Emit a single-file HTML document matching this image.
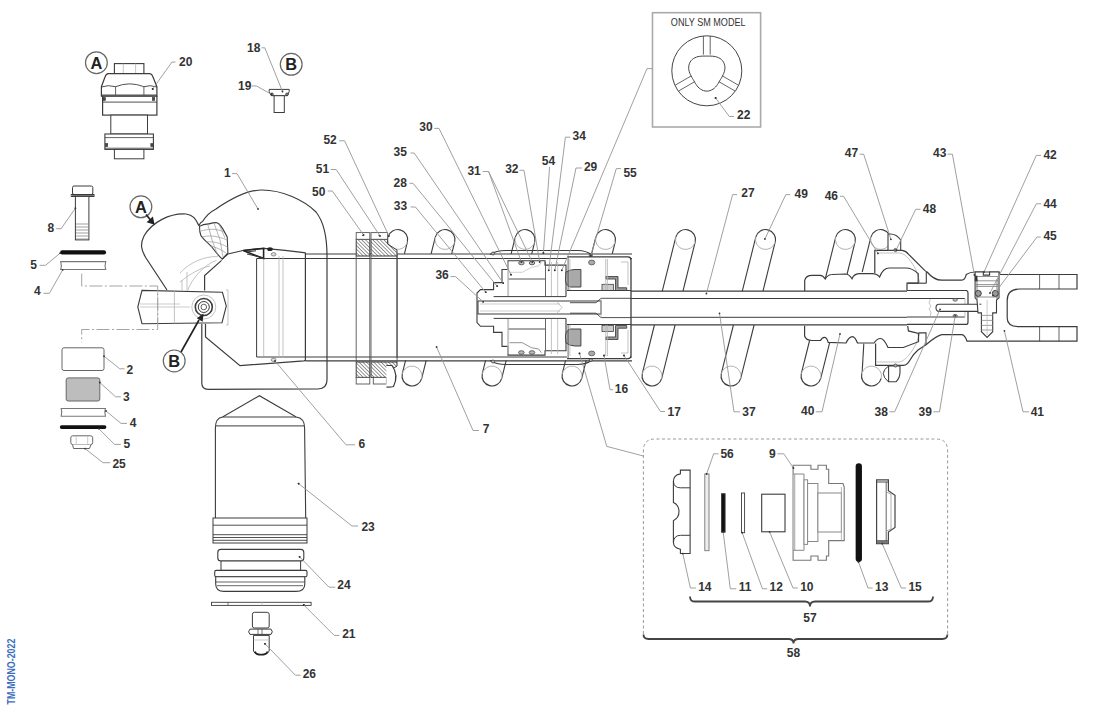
<!DOCTYPE html>
<html><head><meta charset="utf-8"><style>
html,body{margin:0;padding:0;background:#fff;}
svg{display:block;}
.lb{font-family:"Liberation Sans",sans-serif;font-weight:bold;fill:#333;}
</style></head><body>
<svg width="1100" height="715" viewBox="0 0 1100 715">
<defs><pattern id="hatch" patternUnits="userSpaceOnUse" width="2.6" height="2.6" patternTransform="rotate(-45)"><rect width="2.6" height="2.6" fill="#fff"/><line x1="0" y1="0" x2="0" y2="2.6" stroke="#444" stroke-width="1.1"/></pattern></defs>
<rect width="1100" height="715" fill="#fff"/>
<path d="M198.9,225.7 C200,223 201,222 202.7,221.3 C206,216 210,212 216,209 C232,198 248,190 262,190 C282,190 304,200 316,212 C324,222 327,236 327,256" fill="none" stroke="#3c3c3c" stroke-width="1.2" />
<path d="M198.9,225.7 C196,220 194,215 186,214 C170,213 152,222 144,236 C140,244 141,250 146,258 L167,290" fill="none" stroke="#3c3c3c" stroke-width="1.2" />
<path d="M199.5,226.4 C203,224 206,224 209,223.9 C212,223 214,222.6 216,222.6 C219,222.6 221,226 222.8,228.9 L227.2,237 L227.9,252.8 L222.2,259.1 C218,255 214,250 211.5,246.5 C206,241 202,238 200.8,235.2 C199.5,232 199.5,229 199.5,226.4 Z" fill="white" stroke="#3c3c3c" stroke-width="1.1" />
<path d="M201,231 C208,229 216,228 224,232 M202,237 C210,235 218,236 227,240 M206,242 C213,241 220,243 227.5,247 M210,246 C216,247 222,250 226,253 M208,225 L212,240 L218,256 M214,223 L220,240 L223,257 M219,224 L225,238" fill="none" stroke="#9a9a9a" stroke-width="0.7" />
<path d="M180,273 C190,262 205,256 217.8,256.6 M187.6,290.6 C192,278 205,264 216.5,260.4 M180,282 C190,274 200,268 210,266 M182,290 L182,280 M187,290 L187,272" fill="none" stroke="#b4b4b4" stroke-width="0.8" />
<polyline points="222.2,259.1 227.9,254.0 243.0,250.5 264.0,248.3 285.0,250.3 304.0,252.6 305.4,253.0 305.4,360.3 304.0,360.8 240.0,365.6 205.5,337.0 205.5,324.0" fill="none" stroke="#3c3c3c" stroke-width="1.2" />
<polyline points="204.6,290.6 204.6,275.5 221.6,260.4" fill="none" stroke="#3c3c3c" stroke-width="1.2" />
<path d="M201.8,324 L201.8,383 Q201.8,389.3 208,389.3 L318,389 Q327,388.5 327,380 L327,256" fill="none" stroke="#3c3c3c" stroke-width="1.2" />
<polygon points="137.8,307.0 142.0,290.4 222.4,292.3 226.3,306.0 222.0,322.7 142.0,323.7" fill="white" stroke="#3c3c3c" stroke-width="1.1" />
<line x1="157.7" y1="290.6" x2="157.7" y2="323.5" stroke="#b4b4b4" stroke-width="0.8" />
<line x1="174.4" y1="290.8" x2="174.4" y2="323.5" stroke="#b4b4b4" stroke-width="0.8" />
<line x1="140.0" y1="307.0" x2="190.0" y2="307.0" stroke="#b4b4b4" stroke-width="0.7" />
<line x1="140.0" y1="304.0" x2="180.0" y2="304.0" stroke="#b4b4b4" stroke-width="0.7" />
<path d="M226,290 L228,290 L228,325 L226,325" fill="none" stroke="#b4b4b4" stroke-width="0.8" />
<circle cx="203.8" cy="307.0" r="12.0" fill="none" stroke="#b4b4b4" stroke-width="0.8" />
<circle cx="203.8" cy="307.0" r="8.5" fill="none" stroke="#3c3c3c" stroke-width="1.6" />
<circle cx="203.8" cy="307.0" r="5.5" fill="none" stroke="#3c3c3c" stroke-width="1.0" />
<circle cx="203.8" cy="307.0" r="2.8" fill="none" stroke="#3c3c3c" stroke-width="0.8" />
<path d="M243.2,250.5 L263.6,248.3 L263.6,258.6 Z" fill="none" stroke="#222" stroke-width="1.6" />
<path d="M246,252 L256,250.8 M247,254 L262,257.5" fill="none" stroke="#333" stroke-width="1.0" />
<ellipse cx="270" cy="249.2" rx="2.8" ry="1.9" fill="#222"/>
<ellipse cx="273.6" cy="254.3" rx="2.4" ry="1.7" fill="#ddd" stroke="#777" stroke-width="0.8"/>
<ellipse cx="273.6" cy="359.8" rx="2.4" ry="1.7" fill="#ddd" stroke="#777" stroke-width="0.8"/>
<line x1="256.6" y1="258.5" x2="632.0" y2="258.5" stroke="#3c3c3c" stroke-width="1.0" />
<line x1="305.4" y1="254.0" x2="632.0" y2="254.0" stroke="#3c3c3c" stroke-width="1.2" />
<line x1="256.6" y1="357.0" x2="632.0" y2="357.0" stroke="#3c3c3c" stroke-width="1.0" />
<line x1="305.4" y1="360.8" x2="632.0" y2="360.8" stroke="#3c3c3c" stroke-width="1.2" />
<line x1="256.6" y1="258.5" x2="256.6" y2="357.0" stroke="#3c3c3c" stroke-width="1.0" />
<line x1="263.7" y1="259.7" x2="263.7" y2="356.0" stroke="#b4b4b4" stroke-width="0.8" />
<line x1="279.0" y1="256.0" x2="279.0" y2="358.0" stroke="#b4b4b4" stroke-width="0.8" />
<line x1="283.0" y1="256.0" x2="283.0" y2="358.0" stroke="#b4b4b4" stroke-width="0.8" />
<line x1="397.0" y1="254.0" x2="397.0" y2="358.0" stroke="#3c3c3c" stroke-width="1.0" />
<line x1="388.0" y1="237.1" x2="383.8" y2="253.8" stroke="#3c3c3c" stroke-width="1.1" />
<line x1="407.4" y1="241.9" x2="404.4" y2="253.8" stroke="#3c3c3c" stroke-width="1.1" />
<line x1="435.3" y1="237.1" x2="431.1" y2="253.8" stroke="#3c3c3c" stroke-width="1.1" />
<line x1="454.7" y1="241.9" x2="451.7" y2="253.8" stroke="#3c3c3c" stroke-width="1.1" />
<line x1="515.3" y1="237.1" x2="511.1" y2="253.8" stroke="#3c3c3c" stroke-width="1.1" />
<line x1="534.7" y1="241.9" x2="531.7" y2="253.8" stroke="#3c3c3c" stroke-width="1.1" />
<line x1="595.8" y1="237.1" x2="591.6" y2="253.8" stroke="#3c3c3c" stroke-width="1.1" />
<line x1="615.2" y1="241.9" x2="612.2" y2="253.8" stroke="#3c3c3c" stroke-width="1.1" />
<line x1="675.8" y1="237.1" x2="662.2" y2="291.3" stroke="#3c3c3c" stroke-width="1.1" />
<line x1="695.2" y1="241.9" x2="682.9" y2="291.3" stroke="#3c3c3c" stroke-width="1.1" />
<line x1="755.8" y1="237.1" x2="742.2" y2="291.3" stroke="#3c3c3c" stroke-width="1.1" />
<line x1="775.2" y1="241.9" x2="762.9" y2="291.3" stroke="#3c3c3c" stroke-width="1.1" />
<line x1="835.7" y1="237.1" x2="825.5" y2="278.0" stroke="#3c3c3c" stroke-width="1.1" />
<line x1="855.1" y1="241.9" x2="847.1" y2="274.0" stroke="#3c3c3c" stroke-width="1.1" />
<line x1="870.9" y1="237.1" x2="862.2" y2="272.0" stroke="#3c3c3c" stroke-width="1.1" />
<line x1="890.3" y1="241.9" x2="888.3" y2="250.0" stroke="#3c3c3c" stroke-width="1.1" />
<line x1="402.3" y1="373.6" x2="405.6" y2="360.3" stroke="#3c3c3c" stroke-width="1.1" />
<line x1="421.7" y1="378.4" x2="426.2" y2="360.3" stroke="#3c3c3c" stroke-width="1.1" />
<line x1="482.3" y1="373.6" x2="485.6" y2="360.3" stroke="#3c3c3c" stroke-width="1.1" />
<line x1="501.7" y1="378.4" x2="506.2" y2="360.3" stroke="#3c3c3c" stroke-width="1.1" />
<line x1="562.3" y1="373.6" x2="565.6" y2="360.3" stroke="#3c3c3c" stroke-width="1.1" />
<line x1="581.7" y1="378.4" x2="586.2" y2="360.3" stroke="#3c3c3c" stroke-width="1.1" />
<line x1="642.3" y1="373.6" x2="654.4" y2="325.0" stroke="#3c3c3c" stroke-width="1.1" />
<line x1="661.7" y1="378.4" x2="675.1" y2="325.0" stroke="#3c3c3c" stroke-width="1.1" />
<line x1="721.3" y1="373.6" x2="733.4" y2="325.0" stroke="#3c3c3c" stroke-width="1.1" />
<line x1="740.7" y1="378.4" x2="754.1" y2="325.0" stroke="#3c3c3c" stroke-width="1.1" />
<line x1="801.3" y1="373.6" x2="809.6" y2="340.5" stroke="#3c3c3c" stroke-width="1.1" />
<line x1="820.7" y1="378.4" x2="829.7" y2="342.4" stroke="#3c3c3c" stroke-width="1.1" />
<line x1="862.0" y1="375.0" x2="863.8" y2="343.6" stroke="#3c3c3c" stroke-width="1.1" />
<circle cx="397.7" cy="239.5" r="10.0" fill="white" stroke="none" stroke-width="0" />
<path d="M388.00,237.07 A10,10 0 0 1 407.40,241.93" fill="none" stroke="#3c3c3c" stroke-width="1.1" />
<path d="M407.40,241.93 A10,10 0 0 1 388.00,237.07" fill="none" stroke="#a0a0a0" stroke-width="0.8" />
<circle cx="445.0" cy="239.5" r="10.0" fill="white" stroke="none" stroke-width="0" />
<path d="M435.30,237.07 A10,10 0 0 1 454.70,241.93" fill="none" stroke="#3c3c3c" stroke-width="1.1" />
<path d="M454.70,241.93 A10,10 0 0 1 435.30,237.07" fill="none" stroke="#a0a0a0" stroke-width="0.8" />
<circle cx="525.0" cy="239.5" r="10.0" fill="white" stroke="none" stroke-width="0" />
<path d="M515.30,237.07 A10,10 0 0 1 534.70,241.93" fill="none" stroke="#3c3c3c" stroke-width="1.1" />
<path d="M534.70,241.93 A10,10 0 0 1 515.30,237.07" fill="none" stroke="#a0a0a0" stroke-width="0.8" />
<circle cx="605.5" cy="239.5" r="10.0" fill="white" stroke="none" stroke-width="0" />
<path d="M595.80,237.07 A10,10 0 0 1 615.20,241.93" fill="none" stroke="#3c3c3c" stroke-width="1.1" />
<path d="M615.20,241.93 A10,10 0 0 1 595.80,237.07" fill="none" stroke="#a0a0a0" stroke-width="0.8" />
<circle cx="685.5" cy="239.5" r="10.0" fill="white" stroke="none" stroke-width="0" />
<path d="M675.80,237.07 A10,10 0 0 1 695.20,241.93" fill="none" stroke="#3c3c3c" stroke-width="1.1" />
<path d="M695.20,241.93 A10,10 0 0 1 675.80,237.07" fill="none" stroke="#a0a0a0" stroke-width="0.8" />
<circle cx="765.5" cy="239.5" r="10.0" fill="white" stroke="none" stroke-width="0" />
<path d="M755.80,237.07 A10,10 0 0 1 775.20,241.93" fill="none" stroke="#3c3c3c" stroke-width="1.1" />
<path d="M775.20,241.93 A10,10 0 0 1 755.80,237.07" fill="none" stroke="#a0a0a0" stroke-width="0.8" />
<circle cx="845.4" cy="239.5" r="10.0" fill="white" stroke="none" stroke-width="0" />
<path d="M835.70,237.07 A10,10 0 0 1 855.10,241.93" fill="none" stroke="#3c3c3c" stroke-width="1.1" />
<path d="M855.10,241.93 A10,10 0 0 1 835.70,237.07" fill="none" stroke="#a0a0a0" stroke-width="0.8" />
<circle cx="880.6" cy="239.5" r="10.0" fill="white" stroke="none" stroke-width="0" />
<path d="M870.90,237.07 A10,10 0 0 1 890.30,241.93" fill="none" stroke="#3c3c3c" stroke-width="1.1" />
<path d="M890.30,241.93 A10,10 0 0 1 870.90,237.07" fill="none" stroke="#a0a0a0" stroke-width="0.8" />
<circle cx="412.0" cy="376.0" r="10.0" fill="white" stroke="none" stroke-width="0" />
<path d="M402.30,373.57 A10,10 0 0 0 421.70,378.43" fill="none" stroke="#3c3c3c" stroke-width="1.1" />
<path d="M421.70,378.43 A10,10 0 0 0 402.30,373.57" fill="none" stroke="#a0a0a0" stroke-width="0.8" />
<circle cx="492.0" cy="376.0" r="10.0" fill="white" stroke="none" stroke-width="0" />
<path d="M482.30,373.57 A10,10 0 0 0 501.70,378.43" fill="none" stroke="#3c3c3c" stroke-width="1.1" />
<path d="M501.70,378.43 A10,10 0 0 0 482.30,373.57" fill="none" stroke="#a0a0a0" stroke-width="0.8" />
<circle cx="572.0" cy="376.0" r="10.0" fill="white" stroke="none" stroke-width="0" />
<path d="M562.30,373.57 A10,10 0 0 0 581.70,378.43" fill="none" stroke="#3c3c3c" stroke-width="1.1" />
<path d="M581.70,378.43 A10,10 0 0 0 562.30,373.57" fill="none" stroke="#a0a0a0" stroke-width="0.8" />
<circle cx="652.0" cy="376.0" r="10.0" fill="white" stroke="none" stroke-width="0" />
<path d="M642.30,373.57 A10,10 0 0 0 661.70,378.43" fill="none" stroke="#3c3c3c" stroke-width="1.1" />
<path d="M661.70,378.43 A10,10 0 0 0 642.30,373.57" fill="none" stroke="#a0a0a0" stroke-width="0.8" />
<circle cx="731.0" cy="376.0" r="10.0" fill="white" stroke="none" stroke-width="0" />
<path d="M721.30,373.57 A10,10 0 0 0 740.70,378.43" fill="none" stroke="#3c3c3c" stroke-width="1.1" />
<path d="M740.70,378.43 A10,10 0 0 0 721.30,373.57" fill="none" stroke="#a0a0a0" stroke-width="0.8" />
<circle cx="811.0" cy="376.0" r="10.0" fill="white" stroke="none" stroke-width="0" />
<path d="M801.30,373.57 A10,10 0 0 0 820.70,378.43" fill="none" stroke="#3c3c3c" stroke-width="1.1" />
<path d="M820.70,378.43 A10,10 0 0 0 801.30,373.57" fill="none" stroke="#a0a0a0" stroke-width="0.8" />
<circle cx="871.5" cy="376.0" r="10.0" fill="white" stroke="none" stroke-width="0" />
<path d="M861.80,373.57 A10,10 0 0 0 881.20,378.43" fill="none" stroke="#3c3c3c" stroke-width="1.1" />
<path d="M881.20,378.43 A10,10 0 0 0 861.80,373.57" fill="none" stroke="#a0a0a0" stroke-width="0.8" />
<line x1="596.0" y1="291.2" x2="907.0" y2="291.2" stroke="#3c3c3c" stroke-width="1.2" />
<line x1="567.0" y1="298.5" x2="907.0" y2="298.5" stroke="#3c3c3c" stroke-width="1.0" />
<line x1="567.0" y1="317.3" x2="907.0" y2="317.3" stroke="#3c3c3c" stroke-width="1.0" />
<line x1="596.0" y1="324.9" x2="907.0" y2="324.9" stroke="#3c3c3c" stroke-width="1.2" />
<path d="M490,254.5 Q496,250.5 506,250.5 L578,250.5 Q586,250.5 592,255" fill="none" stroke="#3c3c3c" stroke-width="1.1" />
<path d="M490,360.5 Q496,364.5 506,364.5 L578,364.5 Q586,364.5 592,360" fill="none" stroke="#3c3c3c" stroke-width="1.1" />
<circle cx="493.0" cy="253.5" r="1.5" fill="#bbb" stroke="#444" stroke-width="0.8" />
<circle cx="493.0" cy="361.5" r="1.5" fill="#bbb" stroke="#444" stroke-width="0.8" />
<circle cx="590.8" cy="255.5" r="1.6" fill="#bbb" stroke="#444" stroke-width="0.8" />
<circle cx="590.8" cy="359.8" r="1.6" fill="#bbb" stroke="#444" stroke-width="0.8" />
<path d="M567,256.9 L628,256.9 Q631,257 631,260 L631,355 Q631,358.6 628,358.6 L567,358.6" fill="white" stroke="#3c3c3c" stroke-width="1.3" />
<polyline points="477.0,307.0 477.0,293.0 480.5,289.6 493.6,289.6 493.6,282.6 502.0,282.6 502.0,269.5 508.0,269.5 508.0,260.7 545.0,260.7 545.0,265.1 566.0,265.1 566.0,296.6" fill="white" stroke="#3c3c3c" stroke-width="1.1" />
<polyline points="477.0,307.0 477.0,322.5 480.5,326.3 493.6,326.3 493.6,332.4 502.0,332.4 502.0,346.4 508.0,346.4 508.0,355.1 545.0,355.1 545.0,350.8 566.0,350.8 566.0,318.4" fill="white" stroke="#3c3c3c" stroke-width="1.1" />
<line x1="493.6" y1="296.6" x2="566.0" y2="296.6" stroke="#3c3c3c" stroke-width="1.0" />
<line x1="493.6" y1="318.4" x2="566.0" y2="318.4" stroke="#3c3c3c" stroke-width="1.0" />
<line x1="508.0" y1="279.0" x2="545.0" y2="279.0" stroke="#3c3c3c" stroke-width="0.9" />
<line x1="508.0" y1="329.0" x2="545.0" y2="329.0" stroke="#3c3c3c" stroke-width="0.9" />
<line x1="507.7" y1="262.0" x2="507.7" y2="296.0" stroke="#b4b4b4" stroke-width="0.8" />
<line x1="507.7" y1="319.0" x2="507.7" y2="354.0" stroke="#b4b4b4" stroke-width="0.8" />
<line x1="508.6" y1="262.0" x2="508.6" y2="296.0" stroke="#b4b4b4" stroke-width="0.8" />
<line x1="508.6" y1="319.0" x2="508.6" y2="354.0" stroke="#b4b4b4" stroke-width="0.8" />
<line x1="551.4" y1="262.0" x2="551.4" y2="296.0" stroke="#b4b4b4" stroke-width="0.8" />
<line x1="551.4" y1="319.0" x2="551.4" y2="354.0" stroke="#b4b4b4" stroke-width="0.8" />
<line x1="557.7" y1="262.0" x2="557.7" y2="296.0" stroke="#b4b4b4" stroke-width="0.8" />
<line x1="557.7" y1="319.0" x2="557.7" y2="354.0" stroke="#b4b4b4" stroke-width="0.8" />
<line x1="545.5" y1="262.0" x2="545.5" y2="296.0" stroke="#555" stroke-width="0.9" />
<line x1="545.5" y1="319.0" x2="545.5" y2="350.0" stroke="#555" stroke-width="0.9" />
<path d="M509.5,342.7 L522.3,342.7 L531.4,347.7 L538.6,349 L541.4,352.7" fill="none" stroke="#777" stroke-width="0.8" />
<path d="M509.5,272.3 L522.3,272.3 L531.4,267.3 L538.6,266 L541.4,262.3" fill="none" stroke="#bbb" stroke-width="0.7" />
<rect x="478.0" y="301.0" width="123.0" height="13.0" rx="0" fill="white" stroke="#3c3c3c" stroke-width="1.0" />
<line x1="480.0" y1="304.0" x2="560.0" y2="304.0" stroke="#b4b4b4" stroke-width="0.7" />
<line x1="480.0" y1="311.0" x2="560.0" y2="311.0" stroke="#b4b4b4" stroke-width="0.7" />
<path d="M556,301 L562,307.5 L556,314" fill="none" stroke="#b4b4b4" stroke-width="0.8" />
<ellipse cx="521.4" cy="263" rx="2.8" ry="1.8" fill="#bbb" stroke="#444" stroke-width="0.8"/>
<ellipse cx="521.4" cy="352.5" rx="2.8" ry="1.8" fill="#bbb" stroke="#444" stroke-width="0.8"/>
<ellipse cx="532" cy="263" rx="2.8" ry="1.8" fill="#bbb" stroke="#444" stroke-width="0.8"/>
<ellipse cx="532" cy="352.5" rx="2.8" ry="1.8" fill="#bbb" stroke="#444" stroke-width="0.8"/>
<path d="M566,272 Q570,269.5 575,269.5 L580.9,269.5 L580.9,287 L570,287 Q565.5,285 565.5,280 Z" fill="#a9a9a9" stroke="#444" stroke-width="1.0" />
<path d="M566,343 Q570,346 575,346 L580.9,346 L580.9,329 L570,329 Q565.5,331 565.5,336 Z" fill="#a9a9a9" stroke="#444" stroke-width="1.0" />
<ellipse cx="591.7" cy="262.5" rx="3.1" ry="2.4" fill="#aaa" stroke="#555" stroke-width="0.8"/>
<ellipse cx="591.7" cy="353.4" rx="3.1" ry="2.4" fill="#aaa" stroke="#555" stroke-width="0.8"/>
<path d="M605.7,276.5 L618,276.5 L618,287.8 L626.7,287.8 L626.7,290.5 L615.5,290.5 L615.5,279 L605.7,279 Z" fill="#999" stroke="#444" stroke-width="0.9" />
<path d="M605.7,339.5 L618,339.5 L618,328.2 L626.7,328.2 L626.7,325.5 L615.5,325.5 L615.5,337 L605.7,337 Z" fill="#999" stroke="#444" stroke-width="0.9" />
<rect x="602.0" y="284.3" width="11.6" height="6.1" rx="0" fill="#ccc" stroke="#444" stroke-width="0.8" />
<rect x="602.0" y="325.4" width="11.6" height="6.1" rx="0" fill="#ccc" stroke="#444" stroke-width="0.8" />
<line x1="569.9" y1="259.0" x2="569.9" y2="290.0" stroke="#b4b4b4" stroke-width="0.8" />
<line x1="569.9" y1="325.0" x2="569.9" y2="356.0" stroke="#b4b4b4" stroke-width="0.8" />
<line x1="605.7" y1="259.0" x2="605.7" y2="290.0" stroke="#b4b4b4" stroke-width="0.8" />
<line x1="605.7" y1="325.0" x2="605.7" y2="356.0" stroke="#b4b4b4" stroke-width="0.8" />
<line x1="607.4" y1="259.0" x2="607.4" y2="290.0" stroke="#b4b4b4" stroke-width="0.8" />
<line x1="607.4" y1="325.0" x2="607.4" y2="356.0" stroke="#b4b4b4" stroke-width="0.8" />
<line x1="568.1" y1="257.0" x2="568.1" y2="290.5" stroke="#555" stroke-width="0.9" />
<line x1="568.1" y1="324.5" x2="568.1" y2="358.6" stroke="#555" stroke-width="0.9" />
<line x1="621.0" y1="262.0" x2="628.0" y2="262.0" stroke="#b4b4b4" stroke-width="0.8" />
<line x1="628.0" y1="262.0" x2="628.0" y2="285.0" stroke="#b4b4b4" stroke-width="0.8" />
<line x1="621.0" y1="353.0" x2="628.0" y2="353.0" stroke="#b4b4b4" stroke-width="0.8" />
<line x1="628.0" y1="330.0" x2="628.0" y2="353.0" stroke="#b4b4b4" stroke-width="0.8" />
<line x1="567.0" y1="290.5" x2="631.0" y2="290.5" stroke="#3c3c3c" stroke-width="1.0" />
<line x1="567.0" y1="324.5" x2="631.0" y2="324.5" stroke="#3c3c3c" stroke-width="1.0" />
<path d="M631,298.3 L601,298.3 L596,302.7 L570,302.7 M631,317.6 L601,317.6 L596,313.2 L570,313.2" fill="none" stroke="#3c3c3c" stroke-width="0.9" />
<line x1="601.0" y1="298.3" x2="601.0" y2="317.6" stroke="#b4b4b4" stroke-width="0.8" />
<circle cx="511.0" cy="274.7" r="0.8" fill="#333"/>
<circle cx="503.2" cy="283.1" r="0.8" fill="#333"/>
<circle cx="497.1" cy="286.1" r="0.8" fill="#333"/>
<circle cx="485.7" cy="292.2" r="0.8" fill="#333"/>
<circle cx="483.1" cy="301.8" r="0.8" fill="#333"/>
<circle cx="548.7" cy="270.3" r="0.8" fill="#333"/>
<circle cx="554.8" cy="270.3" r="0.8" fill="#333"/>
<circle cx="561.8" cy="270.3" r="0.8" fill="#333"/>
<circle cx="543.4" cy="252.9" r="0.8" fill="#333"/>
<circle cx="604.0" cy="355.5" r="0.8" fill="#333"/>
<circle cx="624.0" cy="355.5" r="0.8" fill="#333"/>
<circle cx="579.5" cy="353.4" r="0.8" fill="#333"/>
<circle cx="590.8" cy="255.5" r="0.8" fill="#333"/>
<rect x="356.2" y="239.3" width="13.6" height="16.7" rx="0" fill="url(#hatch)" stroke="#3c3c3c" stroke-width="1.0" />
<rect x="356.2" y="362.0" width="13.6" height="15.4" rx="0" fill="url(#hatch)" stroke="#3c3c3c" stroke-width="1.0" />
<rect x="356.2" y="232.6" width="13.6" height="6.7" rx="0" fill="white" stroke="#555" stroke-width="0.9" />
<rect x="356.2" y="377.4" width="13.6" height="6.6" rx="0" fill="white" stroke="#555" stroke-width="0.9" />
<circle cx="363.0" cy="235.5" r="0.8" fill="#333"/>
<polygon points="371.0,239.3 387.6,239.3 387.6,244.0 397.0,250.0 397.0,256.0 371.0,256.0" fill="url(#hatch)" stroke="#3c3c3c" stroke-width="1.0" />
<polygon points="371.0,362.0 397.0,362.0 397.0,366.0 387.6,372.0 387.6,377.4 371.0,377.4" fill="url(#hatch)" stroke="#3c3c3c" stroke-width="1.0" />
<rect x="371.0" y="232.6" width="16.6" height="6.7" rx="0" fill="white" stroke="#555" stroke-width="0.9" />
<rect x="373.3" y="377.4" width="13.1" height="6.6" rx="0" fill="white" stroke="#555" stroke-width="0.9" />
<circle cx="379.3" cy="235.5" r="0.8" fill="#333"/>
<line x1="356.2" y1="256.0" x2="356.2" y2="362.0" stroke="#555" stroke-width="0.9" />
<line x1="369.8" y1="256.0" x2="369.8" y2="362.0" stroke="#555" stroke-width="0.9" />
<line x1="371.0" y1="256.0" x2="371.0" y2="362.0" stroke="#555" stroke-width="0.9" />
<line x1="397.1" y1="256.0" x2="397.1" y2="362.0" stroke="#555" stroke-width="0.9" />
<path d="M386.4,365.5 L392,365.5 Q399,375 393.5,386.5 Q390,387.5 386.4,387" fill="white" stroke="#3c3c3c" stroke-width="1.2" />
<path d="M874.8,273 L874.8,250.3 L902.2,250.3 Q906,250.8 908.6,254.3 L924.7,270.4 Q926,271.6 927.1,272 Q934,280.2 941.6,280.2 L961.8,280.2 Q965,280 966.2,274.6 Q970,272 975.1,272 L999,272 L999,274.5 L1077,274.5 L1077,289 L1019.4,289 Q1007.2,289 1007.2,300.6 L1007.2,318 Q1007.2,326.7 1019.4,326.7 L1077,326.7 L1077,341.2 L967,341.2 Q965,335 961.8,334.6 L941.6,334.6 Q936,336 926,344.7 L918,350 Q912.5,354.8 910,360 Q907,365.4 903.6,365.4 L875.6,365.4 L875.6,343.6" fill="none" stroke="#3c3c3c" stroke-width="1.2" />
<line x1="926.3" y1="272.0" x2="926.3" y2="283.2" stroke="#3c3c3c" stroke-width="1.1" />
<path d="M877,253 L900,253 C906,254 912,262 916,270 L920,283" fill="none" stroke="#b4b4b4" stroke-width="0.8" />
<path d="M877,362 L900,362 C906,360 912,352 916,344 L920,333" fill="none" stroke="#b4b4b4" stroke-width="0.8" />
<line x1="1039.6" y1="274.5" x2="1039.6" y2="289.0" stroke="#3c3c3c" stroke-width="0.8" />
<line x1="1039.6" y1="326.7" x2="1039.6" y2="341.2" stroke="#3c3c3c" stroke-width="0.8" />
<line x1="1059.0" y1="274.5" x2="1059.0" y2="289.0" stroke="#3c3c3c" stroke-width="0.8" />
<line x1="1059.0" y1="326.7" x2="1059.0" y2="341.2" stroke="#3c3c3c" stroke-width="0.8" />
<path d="M804.7,291 L804.7,280.4 Q806,275.4 812,275.4 L820.1,275.4 Q823,275.4 825.2,279 Q828,274.5 832,274.5 L845.3,274 Q849,274 852,278.7 Q854,273.7 860,273.7 L872.2,273.7 Q877,273.7 879.6,277 Q883,268 889.3,268 L906,268 Q912,268 918.2,273.6 L918.2,283.2 L907,283.2 L907,290.5" fill="none" stroke="#3c3c3c" stroke-width="1.2" />
<line x1="907.8" y1="283.2" x2="926.3" y2="283.2" stroke="#3c3c3c" stroke-width="1.1" />
<path d="M804.6,325.8 L804.6,336 Q806,340.5 812,340.5 L820.5,340.5 Q822,337.3 824.4,337.3 Q827,337.3 828.2,342.4 L846,343 Q849,336.6 852.4,336.6 Q855,336.6 857.5,343 L874,343 Q877,338.5 880.4,338.5 Q884,338.5 888,347.5 L903.3,347.5 L918.5,341.7 L918.5,333.5 L908.4,330.9 L907.7,325.8" fill="none" stroke="#3c3c3c" stroke-width="1.2" />
<path d="M918.5,332.9 L926,332.9 L926,344.7" fill="none" stroke="#3c3c3c" stroke-width="1.1" />
<path d="M888,250.2 L888,234.2 Q896,233 900.7,240 L900.7,250.2 Z" fill="white" stroke="#3c3c3c" stroke-width="1.1" />
<path d="M888.6,365.9 L888.6,381.8 L896,381.8 Q900,378 900,372 L900,365.9 Z" fill="white" stroke="#3c3c3c" stroke-width="1.1" />
<path d="M888.6,366 Q878,373 888.6,382" fill="none" stroke="#3c3c3c" stroke-width="1.0" />
<circle cx="895.5" cy="250.0" r="1.6" fill="#aaa" stroke="#444" stroke-width="0.8" />
<circle cx="895.5" cy="365.5" r="1.6" fill="#aaa" stroke="#444" stroke-width="0.8" />
<path d="M907,290.5 L966.5,290.5 Q968,291 968,293 L968,322 Q968,324.3 966.5,324.3 L907,324.3" fill="none" stroke="#3c3c3c" stroke-width="1.2" />
<line x1="907.0" y1="298.5" x2="964.9" y2="298.5" stroke="#3c3c3c" stroke-width="1.0" />
<line x1="907.0" y1="317.0" x2="964.9" y2="317.0" stroke="#3c3c3c" stroke-width="1.0" />
<line x1="964.9" y1="298.5" x2="964.9" y2="317.0" stroke="#b4b4b4" stroke-width="0.8" />
<path d="M930.3,299.3 L929,303 L931,306 L929,309 L931,312 L930.3,316.2" fill="none" stroke="#b4b4b4" stroke-width="0.8" />
<path d="M979.4,304.2 L939,304.2 Q936,304.2 936,307.8 Q936,311.4 939,311.4 L979.4,311.4" fill="white" stroke="#3c3c3c" stroke-width="1.1" />
<ellipse cx="955.2" cy="299.8" rx="2.2" ry="1.4" fill="#bbb" stroke="#444" stroke-width="0.7"/>
<ellipse cx="955.2" cy="315.8" rx="2.2" ry="1.4" fill="#bbb" stroke="#444" stroke-width="0.7"/>
<path d="M975.1,272 L983.3,272 L983.3,275.1 L989.6,275.1 L989.6,272 L999,272 L999,297.8 L996.5,300 L996.5,312.9 L992.7,312.9 L992.7,331.7 L987.1,337.4 L981.4,331.7 L981.4,312.9 L978,312.9 L977,300 L975.1,297.8 Z" fill="white" stroke="#3c3c3c" stroke-width="1.1" />
<line x1="976.0" y1="276.5" x2="998.0" y2="276.5" stroke="#777" stroke-width="0.8" />
<line x1="976.0" y1="280.8" x2="998.0" y2="280.8" stroke="#777" stroke-width="0.8" />
<line x1="976.0" y1="284.6" x2="998.0" y2="284.6" stroke="#777" stroke-width="0.8" />
<line x1="976.0" y1="286.4" x2="998.0" y2="286.4" stroke="#777" stroke-width="0.8" />
<line x1="976.0" y1="297.0" x2="998.0" y2="297.0" stroke="#777" stroke-width="0.8" />
<line x1="981.4" y1="315.4" x2="992.7" y2="315.4" stroke="#888" stroke-width="0.8" />
<line x1="981.4" y1="320.4" x2="992.7" y2="320.4" stroke="#888" stroke-width="0.8" />
<line x1="981.4" y1="325.4" x2="992.7" y2="325.4" stroke="#888" stroke-width="0.8" />
<line x1="981.4" y1="330.0" x2="992.7" y2="330.0" stroke="#888" stroke-width="0.8" />
<line x1="977.0" y1="279.0" x2="977.0" y2="300.0" stroke="#666" stroke-width="0.8" />
<line x1="997.0" y1="279.0" x2="997.0" y2="300.0" stroke="#666" stroke-width="0.8" />
<line x1="987.1" y1="300.0" x2="987.1" y2="335.0" stroke="#b4b4b4" stroke-width="0.7" />
<rect x="975.1" y="276.0" width="2.0" height="5.0" rx="0" fill="#333" stroke="#3c3c3c" stroke-width="0.6" />
<circle cx="978.3" cy="293.4" r="3.0" fill="#999" stroke="#333" stroke-width="0.9" />
<circle cx="995.3" cy="293.4" r="3.0" fill="#999" stroke="#333" stroke-width="0.9" />
<line x1="979.4" y1="304.2" x2="981.4" y2="304.2" stroke="#3c3c3c" stroke-width="1.0" />
<rect x="114.4" y="63.6" width="29.5" height="10.1" rx="0" fill="white" stroke="#3c3c3c" stroke-width="1.1" />
<line x1="123.3" y1="63.6" x2="123.3" y2="73.7" stroke="#b4b4b4" stroke-width="0.8" />
<line x1="135.6" y1="63.6" x2="135.6" y2="73.7" stroke="#b4b4b4" stroke-width="0.8" />
<path d="M108.5,73.7 L149.8,73.7 Q152,74 153,77 L156.9,86.7 L156.9,96.2 L101.4,96.2 L101.4,86.7 L105,77 Q106,74 108.5,73.7 Z" fill="white" stroke="#3c3c3c" stroke-width="1.2" />
<path d="M101.4,87 Q108,84.5 115.6,86.7 Q129.5,81 143.9,86.7 Q150,84.5 156.9,87" fill="none" stroke="#3c3c3c" stroke-width="0.9" />
<line x1="115.6" y1="86.7" x2="115.6" y2="95.0" stroke="#3c3c3c" stroke-width="0.8" />
<line x1="143.9" y1="86.7" x2="143.9" y2="95.0" stroke="#3c3c3c" stroke-width="0.8" />
<line x1="101.4" y1="95.0" x2="156.9" y2="95.0" stroke="#3c3c3c" stroke-width="0.9" />
<rect x="102.6" y="96.2" width="54.3" height="18.9" rx="0" fill="white" stroke="#3c3c3c" stroke-width="1.2" />
<line x1="102.6" y1="102.1" x2="156.9" y2="102.1" stroke="#3c3c3c" stroke-width="0.9" />
<rect x="103.0" y="97.5" width="2.4" height="3.0" rx="0" fill="#444" stroke="#3c3c3c" stroke-width="0.6" />
<rect x="152.3" y="97.5" width="2.4" height="3.0" rx="0" fill="#444" stroke="#3c3c3c" stroke-width="0.6" />
<rect x="110.8" y="115.1" width="36.7" height="18.9" rx="0" fill="white" stroke="#3c3c3c" stroke-width="1.0" />
<rect x="104.9" y="134.0" width="48.5" height="15.4" rx="0" fill="white" stroke="#3c3c3c" stroke-width="1.1" />
<line x1="104.9" y1="137.6" x2="153.4" y2="137.6" stroke="#3c3c3c" stroke-width="0.8" />
<line x1="104.9" y1="148.2" x2="153.4" y2="148.2" stroke="#3c3c3c" stroke-width="0.8" />
<rect x="105.3" y="143.6" width="2.4" height="3.0" rx="0" fill="#444" stroke="#3c3c3c" stroke-width="0.6" />
<rect x="150.8" y="143.6" width="2.4" height="3.0" rx="0" fill="#444" stroke="#3c3c3c" stroke-width="0.6" />
<rect x="114.4" y="149.4" width="29.5" height="9.4" rx="0" fill="white" stroke="#3c3c3c" stroke-width="1.0" />
<circle cx="152.7" cy="89.0" r="0.9" fill="#333"/>
<polygon points="269.2,89.4 289.2,89.4 289.2,91.5 287.4,95.7 271.3,95.7 269.2,91.5" fill="white" stroke="#3c3c3c" stroke-width="1.0" />
<rect x="274.1" y="95.7" width="10.2" height="16.8" rx="0" fill="white" stroke="#3c3c3c" stroke-width="1.0" />
<circle cx="272.0" cy="94.3" r="1.3" fill="#888" stroke="#333" stroke-width="0.8" />
<circle cx="287.0" cy="94.3" r="1.3" fill="#888" stroke="#333" stroke-width="0.8" />
<rect x="72.5" y="186.0" width="20.3" height="8.5" rx="1.5" fill="white" stroke="#3c3c3c" stroke-width="1.0" />
<rect x="71.3" y="194.5" width="22.7" height="2.0" rx="0" fill="#777" stroke="#3c3c3c" stroke-width="1.0" />
<rect x="75.4" y="196.4" width="13.5" height="43.5" rx="0" fill="white" stroke="#3c3c3c" stroke-width="1.0" />
<line x1="76.0" y1="224.0" x2="88.0" y2="224.0" stroke="#777" stroke-width="0.7" />
<line x1="76.0" y1="227.0" x2="88.0" y2="227.0" stroke="#777" stroke-width="0.7" />
<line x1="76.0" y1="230.0" x2="88.0" y2="230.0" stroke="#777" stroke-width="0.7" />
<line x1="76.0" y1="233.0" x2="88.0" y2="233.0" stroke="#777" stroke-width="0.7" />
<line x1="76.0" y1="236.0" x2="88.0" y2="236.0" stroke="#777" stroke-width="0.7" />
<line x1="76.0" y1="239.0" x2="88.0" y2="239.0" stroke="#777" stroke-width="0.7" />
<line x1="62.2" y1="252.4" x2="104" y2="252.4" stroke="#111" stroke-width="4.2" stroke-linecap="round"/>
<path d="M60.7,261.6 L105.7,261.6 Q104.5,265.5 105.7,269.5 L60.7,269.5 Q62,265.5 60.7,261.6 Z" fill="white" stroke="#777" stroke-width="1.1" />
<path d="M81.7,273.7 L81.7,286 L157.7,286 L157.7,329.5 L81.7,329.5 L81.7,342.3" fill="none" stroke="#9a9a9a" stroke-width="0.9" stroke-dasharray="13,2.5,2,2.5"/>
<rect x="62.0" y="347.8" width="42.0" height="22.7" rx="2" fill="white" stroke="#666" stroke-width="1.0" />
<rect x="66.2" y="377.9" width="33.6" height="23.1" rx="2" fill="#bdbdbd" stroke="#666" stroke-width="1.0" />
<path d="M61.2,408.5 L105.4,408.5 Q104.2,412.3 105.4,416.2 L61.2,416.2 Q62.4,412.3 61.2,408.5 Z" fill="white" stroke="#777" stroke-width="1.1" />
<line x1="61.7" y1="427.1" x2="104.5" y2="427.1" stroke="#111" stroke-width="3.8" stroke-linecap="round"/>
<rect x="70.8" y="435.8" width="21.9" height="8.8" rx="2" fill="white" stroke="#666" stroke-width="1.0" />
<path d="M72.5,444.6 L73.5,448.5 L89.5,448.5 L91,444.6" fill="white" stroke="#666" stroke-width="1.0" />
<line x1="76.2" y1="436.5" x2="76.2" y2="444.0" stroke="#b4b4b4" stroke-width="0.7" />
<line x1="87.7" y1="436.5" x2="87.7" y2="444.0" stroke="#b4b4b4" stroke-width="0.7" />
<path d="M215.4,518 L215.4,428 Q215.4,418 222.6,417 L259.4,395.7 L296.2,417 Q304.6,418 304.6,428 L305.7,518" fill="white" stroke="#3c3c3c" stroke-width="1.1" />
<line x1="222.6" y1="417.0" x2="296.2" y2="417.0" stroke="#3c3c3c" stroke-width="1.0" />
<line x1="215.4" y1="425.9" x2="304.6" y2="425.9" stroke="#3c3c3c" stroke-width="1.0" />
<rect x="213.0" y="518.0" width="94.0" height="25.0" rx="0" fill="white" stroke="#3c3c3c" stroke-width="1.0" />
<line x1="213.0" y1="525.2" x2="307.0" y2="525.2" stroke="#3c3c3c" stroke-width="0.9" />
<line x1="213.0" y1="534.7" x2="307.0" y2="534.7" stroke="#3c3c3c" stroke-width="0.9" />
<line x1="213.0" y1="537.5" x2="307.0" y2="537.5" stroke="#3c3c3c" stroke-width="0.9" />
<line x1="213.0" y1="540.3" x2="307.0" y2="540.3" stroke="#3c3c3c" stroke-width="0.9" />
<rect x="217.8" y="549.4" width="86.0" height="11.6" rx="3" fill="white" stroke="#3c3c3c" stroke-width="1.1" />
<rect x="221.0" y="561.0" width="79.6" height="9.4" rx="0" fill="white" stroke="#3c3c3c" stroke-width="1.0" />
<rect x="214.7" y="570.4" width="92.3" height="6.3" rx="1.5" fill="white" stroke="#3c3c3c" stroke-width="1.1" />
<path d="M215.7,576.7 L304.8,576.7 L304.8,584 Q304.8,591.4 296,591.4 L224,591.4 Q215.7,591.4 215.7,584 Z" fill="white" stroke="#3c3c3c" stroke-width="1.1" />
<line x1="215.7" y1="582.0" x2="304.8" y2="582.0" stroke="#3c3c3c" stroke-width="0.8" />
<line x1="217.0" y1="585.7" x2="303.0" y2="585.7" stroke="#3c3c3c" stroke-width="0.8" />
<rect x="211.5" y="602.3" width="99.6" height="3.1" rx="0" fill="white" stroke="#3c3c3c" stroke-width="0.9" />
<line x1="228.0" y1="602.3" x2="228.0" y2="605.4" stroke="#3c3c3c" stroke-width="0.7" />
<line x1="262.0" y1="602.3" x2="262.0" y2="605.4" stroke="#b4b4b4" stroke-width="0.7" />
<rect x="252.4" y="612.3" width="16.8" height="15.7" rx="2" fill="white" stroke="#3c3c3c" stroke-width="1.0" />
<path d="M250,629.1 L271,629.1 L272.3,631.8 L271,634.4 L250,634.4 L248.6,631.8 Z" fill="white" stroke="#3c3c3c" stroke-width="1.0" />
<path d="M253.5,635.4 L269.2,635.4 L269.2,651 Q268,654.3 264,654.3 L258,654.3 Q254.5,654.3 253.5,651 Z" fill="white" stroke="#3c3c3c" stroke-width="1.0" />
<line x1="253.5" y1="640.0" x2="269.2" y2="640.0" stroke="#b4b4b4" stroke-width="0.7" />
<line x1="258.0" y1="629.1" x2="258.0" y2="634.4" stroke="#3c3c3c" stroke-width="0.7" />
<line x1="262.0" y1="629.1" x2="262.0" y2="634.4" stroke="#3c3c3c" stroke-width="0.7" />
<path d="M255,651.5 Q256,654.8 261,654.8 Q266.5,654.8 267.5,651.5" fill="none" stroke="#222" stroke-width="1.6" />
<circle cx="298.6" cy="483.6" r="0.9" fill="#333"/>
<circle cx="299.6" cy="556.8" r="0.9" fill="#333"/>
<circle cx="303.8" cy="605.0" r="0.9" fill="#333"/>
<circle cx="265.0" cy="643.8" r="0.9" fill="#333"/>
<path d="M643.4,634 L643.4,451 Q643.4,439 655,439 L936,439 Q947.6,439 947.6,451 L947.6,634" fill="none" stroke="#999" stroke-width="1.0" stroke-dasharray="3,2.5"/>
<path d="M680.4,470.1 L690.1,470.1 L690.1,553.5 L680.4,553.5 L680.4,549.3 Q673.4,548 673.4,542.3 L673.4,520.7 Q679,518 679,511.6 Q679,505 673.4,502.5 L673.4,481.6 Q673.4,475 680.4,473.9 Z" fill="white" stroke="#3c3c3c" stroke-width="1.1" />
<path d="M673.4,481.6 Q674,487.8 680.4,487.8 L690.1,487.8 M673.4,542.3 Q674,535.3 680.4,535.3 L690.1,535.3" fill="none" stroke="#3c3c3c" stroke-width="1.0" />
<rect x="704.8" y="473.9" width="4.2" height="76.8" rx="0" fill="#eee" stroke="#777" stroke-width="0.9" />
<rect x="721.5" y="493.7" width="3.6" height="38.5" rx="0" fill="#111" stroke="#3c3c3c" stroke-width="0.9" />
<rect x="741.5" y="493.0" width="3.1" height="39.7" rx="0" fill="white" stroke="#3c3c3c" stroke-width="0.9" />
<rect x="761.7" y="494.2" width="23.3" height="37.6" rx="0" fill="white" stroke="#3c3c3c" stroke-width="1.1" />
<polygon points="793.1,465.2 810.9,465.2 810.9,469.2 818.0,469.2 818.0,465.2 826.4,465.2 826.4,469.2 828.7,469.2 828.7,483.5 843.0,483.5 844.2,487.0 844.2,540.6 828.7,540.6 828.7,556.0 826.4,556.0 826.4,560.3 818.0,560.3 818.0,556.0 810.9,556.0 810.9,560.3 793.1,560.3" fill="white" stroke="#777" stroke-width="1.1" />
<rect x="793.1" y="474.0" width="2.2" height="76.3" rx="0" fill="#bbb" stroke="none" stroke-width="0" />
<polyline points="793.1,474.0 804.0,474.0 804.0,550.3 793.1,550.3" fill="none" stroke="#888" stroke-width="1.0" />
<rect x="804.0" y="479.8" width="3.6" height="64.6" rx="0" fill="white" stroke="#888" stroke-width="1.0" />
<rect x="807.6" y="483.5" width="10.3" height="58.0" rx="0" fill="white" stroke="#888" stroke-width="1.0" />
<rect x="817.9" y="493.0" width="23.5" height="39.0" rx="0" fill="white" stroke="#888" stroke-width="1.0" />
<line x1="841.4" y1="487.0" x2="841.4" y2="540.6" stroke="#aaa" stroke-width="0.8" />
<line x1="858.8" y1="466.5" x2="858.8" y2="558.8" stroke="#111" stroke-width="6.3" stroke-linecap="round"/>
<path d="M876.6,479.8 L888.4,479.8 L888.4,490.8 L895,495.2 L895,527.5 L888.4,532 L888.4,543.7 L876.6,543.7 Z" fill="white" stroke="#444" stroke-width="1.2" />
<line x1="877.0" y1="482.0" x2="888.0" y2="482.0" stroke="#444" stroke-width="1.0" />
<rect x="877.0" y="540.0" width="11.4" height="3.5" rx="0" fill="#777" stroke="none" stroke-width="0" />
<line x1="886.2" y1="482.0" x2="886.2" y2="541.0" stroke="#555" stroke-width="0.9" />
<path d="M886.2,492 L891,494 L891,529 L886.2,531" fill="none" stroke="#999" stroke-width="0.8" />
<path d="M690,596.4 Q690,601.5 695,601.5 L805,601.5 Q810,601.5 810,606.6 Q810,601.5 815,601.5 L928,601.5 Q933,601.5 933,596.4" fill="none" stroke="#444" stroke-width="1.8" />
<path d="M643.5,634.5 Q643.5,639 648.5,639 L788.5,639 Q793.5,639 793.5,643.5 Q793.5,639 798.5,639 L942.4,639 Q947.4,639 947.4,634.5" fill="none" stroke="#444" stroke-width="1.8" />
<rect x="652.5" y="12.7" width="108.1" height="114.3" rx="0" fill="white" stroke="#aaa" stroke-width="1.6" />
<text x="708.2" y="25.6" font-size="10.5" text-anchor="middle" fill="#333" transform="translate(708.2 0) scale(0.864 1) translate(-708.2 0)" style="font-family:'Liberation Sans',sans-serif">ONLY SM MODEL</text>
<circle cx="706.8" cy="70.8" r="35.0" fill="none" stroke="#444" stroke-width="1.0" />
<polyline points="706.8,56.1 708.2,56.1 709.6,56.1 711.0,56.1 712.5,56.2 714.0,56.4 715.5,56.6 717.1,57.1 718.6,57.7 720.1,58.5 721.4,59.5 722.6,60.8 723.5,62.1 724.2,63.7 724.7,65.3 724.9,66.9 724.9,68.6 724.7,70.2 724.3,71.8 723.8,73.3 723.1,74.7 722.5,76.0 721.8,77.3 721.1,78.5 720.4,79.6 719.7,80.8 719.0,82.0 718.3,83.3 717.5,84.5 716.6,85.8 715.5,87.0 714.4,88.1 713.1,89.1 711.7,89.9 710.1,90.6 708.5,91.0 706.8,91.1 705.1,91.0 703.5,90.6 701.9,89.9 700.5,89.1 699.2,88.1 698.0,87.0 697.0,85.8 696.1,84.5 695.3,83.3 694.6,82.0 693.9,80.8 693.2,79.6 692.5,78.5 691.8,77.3 691.1,76.0 690.5,74.7 689.8,73.3 689.3,71.8 688.9,70.2 688.7,68.6 688.7,66.9 688.9,65.3 689.4,63.7 690.1,62.1 691.0,60.8 692.2,59.5 693.5,58.5 695.0,57.7 696.5,57.1 698.0,56.6 699.6,56.4 701.1,56.2 702.6,56.1 704.0,56.1 705.4,56.1 706.8,56.1" fill="none" stroke="#444" stroke-width="1.0" />
<line x1="703.4" y1="54.6" x2="703.4" y2="36.0" stroke="#555" stroke-width="0.9" />
<line x1="710.2" y1="54.6" x2="710.2" y2="36.0" stroke="#555" stroke-width="0.9" />
<line x1="722.5" y1="76.0" x2="738.6" y2="85.3" stroke="#555" stroke-width="0.9" />
<line x1="719.1" y1="81.8" x2="735.2" y2="91.1" stroke="#555" stroke-width="0.9" />
<line x1="694.5" y1="81.8" x2="678.4" y2="91.1" stroke="#555" stroke-width="0.9" />
<line x1="691.1" y1="76.0" x2="675.0" y2="85.3" stroke="#555" stroke-width="0.9" />
<circle cx="715.6" cy="98.0" r="0.9" fill="#333"/>
<circle cx="96.4" cy="62.7" r="10.9" fill="white" stroke="#666" stroke-width="1.2" />
<text x="96.4" y="68.60000000000001" font-size="16.4" text-anchor="middle" class="lb" style="fill:#222">A</text>
<circle cx="291.2" cy="64.3" r="10.9" fill="white" stroke="#666" stroke-width="1.2" />
<text x="291.2" y="70.2" font-size="16.4" text-anchor="middle" class="lb" style="fill:#222">B</text>
<circle cx="140.9" cy="206.8" r="10.9" fill="white" stroke="#666" stroke-width="1.2" />
<text x="140.9" y="212.70000000000002" font-size="16.4" text-anchor="middle" class="lb" style="fill:#222">A</text>
<circle cx="174.2" cy="360.9" r="10.9" fill="white" stroke="#666" stroke-width="1.2" />
<text x="174.2" y="366.79999999999995" font-size="16.4" text-anchor="middle" class="lb" style="fill:#222">B</text>
<line x1="146.0" y1="214.5" x2="150.5" y2="220.0" stroke="#222" stroke-width="1.7" />
<polygon points="154.6,224.7 146.6,222.2 152.9,216.6" fill="#222"/>
<line x1="181.0" y1="352.0" x2="199.0" y2="320.0" stroke="#222" stroke-width="1.7" />
<polygon points="203.6,313.6 196.8,318.3 202.6,321.8" fill="#222"/>
<text x="179.0" y="66.3" font-size="12" text-anchor="start" class="lb">20</text>
<text x="247.0" y="51.8" font-size="12" text-anchor="start" class="lb">18</text>
<text x="238.0" y="90.3" font-size="12" text-anchor="start" class="lb">19</text>
<text x="47.4" y="232.3" font-size="12" text-anchor="start" class="lb">8</text>
<text x="30.2" y="268.8" font-size="12" text-anchor="start" class="lb">5</text>
<text x="34.1" y="295.3" font-size="12" text-anchor="start" class="lb">4</text>
<text x="224.0" y="176.8" font-size="12" text-anchor="start" class="lb">1</text>
<text x="323.4" y="143.8" font-size="12" text-anchor="start" class="lb">52</text>
<text x="315.8" y="172.8" font-size="12" text-anchor="start" class="lb">51</text>
<text x="312.0" y="196.1" font-size="12" text-anchor="start" class="lb">50</text>
<text x="419.3" y="131.1" font-size="12" text-anchor="start" class="lb">30</text>
<text x="393.5" y="156.1" font-size="12" text-anchor="start" class="lb">35</text>
<text x="393.5" y="186.6" font-size="12" text-anchor="start" class="lb">28</text>
<text x="393.8" y="210.0" font-size="12" text-anchor="start" class="lb">33</text>
<text x="467.4" y="174.6" font-size="12" text-anchor="start" class="lb">31</text>
<text x="505.2" y="173.3" font-size="12" text-anchor="start" class="lb">32</text>
<text x="541.8" y="164.6" font-size="12" text-anchor="start" class="lb">54</text>
<text x="572.5" y="139.6" font-size="12" text-anchor="start" class="lb">34</text>
<text x="583.9" y="170.6" font-size="12" text-anchor="start" class="lb">29</text>
<text x="623.4" y="176.5" font-size="12" text-anchor="start" class="lb">55</text>
<text x="435.4" y="279.3" font-size="12" text-anchor="start" class="lb">36</text>
<text x="741.3" y="196.7" font-size="12" text-anchor="start" class="lb">27</text>
<text x="794.5" y="197.6" font-size="12" text-anchor="start" class="lb">49</text>
<text x="844.8" y="157.3" font-size="12" text-anchor="start" class="lb">47</text>
<text x="824.7" y="199.8" font-size="12" text-anchor="start" class="lb">46</text>
<text x="922.8" y="212.8" font-size="12" text-anchor="start" class="lb">48</text>
<text x="933.0" y="157.3" font-size="12" text-anchor="start" class="lb">43</text>
<text x="1043.4" y="158.5" font-size="12" text-anchor="start" class="lb">42</text>
<text x="1043.4" y="207.5" font-size="12" text-anchor="start" class="lb">44</text>
<text x="1043.4" y="240.0" font-size="12" text-anchor="start" class="lb">45</text>
<text x="126.5" y="374.2" font-size="12" text-anchor="start" class="lb">2</text>
<text x="122.9" y="401.1" font-size="12" text-anchor="start" class="lb">3</text>
<text x="129.8" y="426.7" font-size="12" text-anchor="start" class="lb">4</text>
<text x="123.5" y="447.7" font-size="12" text-anchor="start" class="lb">5</text>
<text x="112.4" y="467.6" font-size="12" text-anchor="start" class="lb">25</text>
<text x="358.6" y="448.1" font-size="12" text-anchor="start" class="lb">6</text>
<text x="482.7" y="433.2" font-size="12" text-anchor="start" class="lb">7</text>
<text x="614.8" y="392.8" font-size="12" text-anchor="start" class="lb">16</text>
<text x="667.5" y="415.8" font-size="12" text-anchor="start" class="lb">17</text>
<text x="742.3" y="415.5" font-size="12" text-anchor="start" class="lb">37</text>
<text x="801.0" y="414.6" font-size="12" text-anchor="start" class="lb">40</text>
<text x="874.6" y="416.1" font-size="12" text-anchor="start" class="lb">38</text>
<text x="918.5" y="416.1" font-size="12" text-anchor="start" class="lb">39</text>
<text x="1030.7" y="415.5" font-size="12" text-anchor="start" class="lb">41</text>
<text x="361.4" y="530.6" font-size="12" text-anchor="start" class="lb">23</text>
<text x="337.3" y="589.3" font-size="12" text-anchor="start" class="lb">24</text>
<text x="342.2" y="637.6" font-size="12" text-anchor="start" class="lb">21</text>
<text x="302.7" y="677.9" font-size="12" text-anchor="start" class="lb">26</text>
<text x="720.4" y="458.1" font-size="12" text-anchor="start" class="lb">56</text>
<text x="769.0" y="458.1" font-size="12" text-anchor="start" class="lb">9</text>
<text x="698.2" y="591.3" font-size="12" text-anchor="start" class="lb">14</text>
<text x="738.7" y="591.3" font-size="12" text-anchor="start" class="lb">11</text>
<text x="769.6" y="591.3" font-size="12" text-anchor="start" class="lb">12</text>
<text x="800.2" y="591.3" font-size="12" text-anchor="start" class="lb">10</text>
<text x="875.1" y="591.3" font-size="12" text-anchor="start" class="lb">13</text>
<text x="908.4" y="591.3" font-size="12" text-anchor="start" class="lb">15</text>
<text x="737.0" y="118.9" font-size="12" text-anchor="start" class="lb">22</text>
<text x="810.0" y="621.7" font-size="12" text-anchor="middle" class="lb">57</text>
<text x="793.5" y="656.8" font-size="12" text-anchor="middle" class="lb">58</text>
<polyline points="152.7,89.0 172.0,62.0 175.5,62.0" fill="none" stroke="#959595" stroke-width="0.9" />
<circle cx="152.7" cy="89.0" r="0.9" fill="#333"/>
<polyline points="282.5,91.5 264.8,47.8 261.5,47.8" fill="none" stroke="#959595" stroke-width="0.9" />
<circle cx="282.5" cy="91.5" r="0.9" fill="#333"/>
<polyline points="271.3,94.3 256.6,86.0 251.7,86.0" fill="none" stroke="#959595" stroke-width="0.9" />
<circle cx="271.3" cy="94.3" r="0.9" fill="#333"/>
<polyline points="75.4,208.2 61.1,228.7 56.2,228.7" fill="none" stroke="#959595" stroke-width="0.9" />
<circle cx="75.4" cy="208.2" r="0.9" fill="#333"/>
<polyline points="60.1,253.2 45.5,265.3 39.6,265.3" fill="none" stroke="#959595" stroke-width="0.9" />
<circle cx="60.1" cy="253.2" r="0.9" fill="#333"/>
<polyline points="62.7,269.8 49.4,293.3 43.5,293.3" fill="none" stroke="#959595" stroke-width="0.9" />
<circle cx="62.7" cy="269.8" r="0.9" fill="#333"/>
<polyline points="258.0,209.0 237.0,173.6 232.0,173.6" fill="none" stroke="#959595" stroke-width="0.9" />
<circle cx="258.0" cy="209.0" r="0.9" fill="#333"/>
<polyline points="388.9,236.0 344.6,140.8 339.2,140.8" fill="none" stroke="#959595" stroke-width="0.9" />
<circle cx="388.9" cy="236.0" r="0.9" fill="#333"/>
<polyline points="380.0,236.0 336.2,169.5 330.8,169.5" fill="none" stroke="#959595" stroke-width="0.9" />
<circle cx="380.0" cy="236.0" r="0.9" fill="#333"/>
<polyline points="363.6,235.0 332.3,191.0 327.7,191.0" fill="none" stroke="#959595" stroke-width="0.9" />
<circle cx="363.6" cy="235.0" r="0.9" fill="#333"/>
<polyline points="511.0,274.7 439.0,128.4 434.3,128.4" fill="none" stroke="#959595" stroke-width="0.9" />
<circle cx="511.0" cy="274.7" r="0.9" fill="#333"/>
<polyline points="503.2,283.1 414.2,153.0 410.6,153.0" fill="none" stroke="#959595" stroke-width="0.9" />
<circle cx="503.2" cy="283.1" r="0.9" fill="#333"/>
<polyline points="497.1,286.1 413.0,183.3 409.5,183.3" fill="none" stroke="#959595" stroke-width="0.9" />
<circle cx="497.1" cy="286.1" r="0.9" fill="#333"/>
<polyline points="485.7,292.2 415.4,207.0 410.6,207.0" fill="none" stroke="#959595" stroke-width="0.9" />
<circle cx="485.7" cy="292.2" r="0.9" fill="#333"/>
<polyline points="521.4,262.0 488.6,171.5 482.7,171.5" fill="none" stroke="#959595" stroke-width="0.9" />
<circle cx="521.4" cy="262.0" r="0.9" fill="#333"/>
<polyline points="532.3,262.0 488.6,171.5" fill="none" stroke="#959595" stroke-width="0.9" />
<circle cx="532.3" cy="262.0" r="0.9" fill="#333"/>
<polyline points="539.7,262.0 524.0,170.3 519.4,170.3" fill="none" stroke="#959595" stroke-width="0.9" />
<circle cx="539.7" cy="262.0" r="0.9" fill="#333"/>
<polyline points="543.4,252.9 549.6,166.7" fill="none" stroke="#959595" stroke-width="0.9" />
<circle cx="543.4" cy="252.9" r="0.9" fill="#333"/>
<polyline points="548.7,270.3 565.4,137.2 570.2,137.2" fill="none" stroke="#959595" stroke-width="0.9" />
<circle cx="548.7" cy="270.3" r="0.9" fill="#333"/>
<polyline points="554.8,270.3 576.0,168.0 582.0,168.0" fill="none" stroke="#959595" stroke-width="0.9" />
<circle cx="554.8" cy="270.3" r="0.9" fill="#333"/>
<polyline points="590.8,255.5 616.3,168.6 621.0,168.6" fill="none" stroke="#959595" stroke-width="0.9" />
<circle cx="590.8" cy="255.5" r="0.9" fill="#333"/>
<polyline points="561.8,270.3 647.0,68.6 652.5,68.6" fill="none" stroke="#959595" stroke-width="0.9" />
<circle cx="561.8" cy="270.3" r="0.9" fill="#333"/>
<polyline points="483.1,301.8 455.5,276.6 450.5,276.6" fill="none" stroke="#959595" stroke-width="0.9" />
<circle cx="483.1" cy="301.8" r="0.9" fill="#333"/>
<polyline points="706.4,293.6 732.6,194.6 737.0,194.6" fill="none" stroke="#959595" stroke-width="0.9" />
<circle cx="706.4" cy="293.6" r="0.9" fill="#333"/>
<polyline points="764.9,239.0 785.8,194.6 790.2,194.6" fill="none" stroke="#959595" stroke-width="0.9" />
<circle cx="764.9" cy="239.0" r="0.9" fill="#333"/>
<polyline points="890.9,239.3 863.7,154.2 859.7,154.2" fill="none" stroke="#959595" stroke-width="0.9" />
<circle cx="890.9" cy="239.3" r="0.9" fill="#333"/>
<polyline points="877.9,253.4 843.6,196.3 840.0,196.3" fill="none" stroke="#959595" stroke-width="0.9" />
<circle cx="877.9" cy="253.4" r="0.9" fill="#333"/>
<polyline points="896.1,250.0 915.7,209.3 920.5,209.3" fill="none" stroke="#959595" stroke-width="0.9" />
<circle cx="896.1" cy="250.0" r="0.9" fill="#333"/>
<polyline points="974.4,275.0 952.4,154.2 947.6,154.2" fill="none" stroke="#959595" stroke-width="0.9" />
<circle cx="974.4" cy="275.0" r="0.9" fill="#333"/>
<polyline points="984.0,272.0 1036.3,155.4 1041.0,155.4" fill="none" stroke="#959595" stroke-width="0.9" />
<circle cx="984.0" cy="272.0" r="0.9" fill="#333"/>
<polyline points="990.0,293.0 1036.3,203.8 1041.0,203.8" fill="none" stroke="#959595" stroke-width="0.9" />
<circle cx="990.0" cy="293.0" r="0.9" fill="#333"/>
<polyline points="993.0,295.5 1037.0,237.0 1040.8,237.0" fill="none" stroke="#959595" stroke-width="0.9" />
<circle cx="993.0" cy="295.5" r="0.9" fill="#333"/>
<polyline points="104.0,356.2 119.8,368.8 124.5,368.8" fill="none" stroke="#959595" stroke-width="0.9" />
<circle cx="104.0" cy="356.2" r="0.9" fill="#333"/>
<polyline points="99.8,382.5 115.6,396.8 120.8,396.8" fill="none" stroke="#959595" stroke-width="0.9" />
<circle cx="99.8" cy="382.5" r="0.9" fill="#333"/>
<polyline points="106.0,411.0 121.0,423.4 127.0,423.4" fill="none" stroke="#959595" stroke-width="0.9" />
<circle cx="106.0" cy="411.0" r="0.9" fill="#333"/>
<polyline points="98.8,428.7 114.5,444.4 120.8,444.4" fill="none" stroke="#959595" stroke-width="0.9" />
<circle cx="98.8" cy="428.7" r="0.9" fill="#333"/>
<polyline points="85.0,448.6 103.0,462.7 110.3,462.7" fill="none" stroke="#959595" stroke-width="0.9" />
<circle cx="85.0" cy="448.6" r="0.9" fill="#333"/>
<polyline points="275.0,361.0 346.0,444.8 355.0,444.8" fill="none" stroke="#959595" stroke-width="0.9" />
<circle cx="275.0" cy="361.0" r="0.9" fill="#333"/>
<polyline points="436.6,347.0 473.0,430.5 479.0,430.5" fill="none" stroke="#959595" stroke-width="0.9" />
<circle cx="436.6" cy="347.0" r="0.9" fill="#333"/>
<polyline points="604.0,355.5 610.0,389.7 613.0,389.7" fill="none" stroke="#959595" stroke-width="0.9" />
<circle cx="604.0" cy="355.5" r="0.9" fill="#333"/>
<polyline points="624.0,355.5 660.5,411.5 665.0,411.5" fill="none" stroke="#959595" stroke-width="0.9" />
<circle cx="624.0" cy="355.5" r="0.9" fill="#333"/>
<polyline points="719.5,313.3 734.0,411.8 740.0,411.8" fill="none" stroke="#959595" stroke-width="0.9" />
<circle cx="719.5" cy="313.3" r="0.9" fill="#333"/>
<polyline points="840.0,333.9 822.0,411.8 815.8,411.8" fill="none" stroke="#959595" stroke-width="0.9" />
<circle cx="840.0" cy="333.9" r="0.9" fill="#333"/>
<polyline points="940.0,309.4 894.7,411.8 889.4,411.8" fill="none" stroke="#959595" stroke-width="0.9" />
<circle cx="940.0" cy="309.4" r="0.9" fill="#333"/>
<polyline points="955.2,315.7 939.5,411.8 933.3,411.8" fill="none" stroke="#959595" stroke-width="0.9" />
<circle cx="955.2" cy="315.7" r="0.9" fill="#333"/>
<polyline points="1004.4,330.8 1023.0,411.8 1029.0,411.8" fill="none" stroke="#959595" stroke-width="0.9" />
<circle cx="1004.4" cy="330.8" r="0.9" fill="#333"/>
<polyline points="298.6,483.6 352.0,526.0 358.0,526.0" fill="none" stroke="#959595" stroke-width="0.9" />
<circle cx="298.6" cy="483.6" r="0.9" fill="#333"/>
<polyline points="299.6,556.8 329.0,587.2 335.2,587.2" fill="none" stroke="#959595" stroke-width="0.9" />
<circle cx="299.6" cy="556.8" r="0.9" fill="#333"/>
<polyline points="303.8,605.0 334.2,635.4 339.4,635.4" fill="none" stroke="#959595" stroke-width="0.9" />
<circle cx="303.8" cy="605.0" r="0.9" fill="#333"/>
<polyline points="265.0,643.8 295.4,675.2 300.6,675.2" fill="none" stroke="#959595" stroke-width="0.9" />
<circle cx="265.0" cy="643.8" r="0.9" fill="#333"/>
<polyline points="706.6,474.0 713.7,453.8 718.5,453.8" fill="none" stroke="#959595" stroke-width="0.9" />
<circle cx="706.6" cy="474.0" r="0.9" fill="#333"/>
<polyline points="793.4,468.0 783.8,453.8 777.4,453.8" fill="none" stroke="#959595" stroke-width="0.9" />
<circle cx="793.4" cy="468.0" r="0.9" fill="#333"/>
<polyline points="682.8,553.6 690.4,588.0 695.9,588.0" fill="none" stroke="#959595" stroke-width="0.9" />
<circle cx="682.8" cy="553.6" r="0.9" fill="#333"/>
<polyline points="723.2,532.0 730.3,588.8 736.3,588.8" fill="none" stroke="#959595" stroke-width="0.9" />
<circle cx="723.2" cy="532.0" r="0.9" fill="#333"/>
<polyline points="742.2,532.7 762.4,588.8 767.2,588.8" fill="none" stroke="#959595" stroke-width="0.9" />
<circle cx="742.2" cy="532.7" r="0.9" fill="#333"/>
<polyline points="769.6,531.8 793.0,588.0 797.8,588.0" fill="none" stroke="#959595" stroke-width="0.9" />
<circle cx="769.6" cy="531.8" r="0.9" fill="#333"/>
<polyline points="858.5,562.0 868.0,588.0 872.7,588.0" fill="none" stroke="#959595" stroke-width="0.9" />
<circle cx="858.5" cy="562.0" r="0.9" fill="#333"/>
<polyline points="882.2,543.7 901.3,588.0 906.0,588.0" fill="none" stroke="#959595" stroke-width="0.9" />
<circle cx="882.2" cy="543.7" r="0.9" fill="#333"/>
<polyline points="715.6,98.0 729.3,116.5 734.0,116.5" fill="none" stroke="#959595" stroke-width="0.9" />
<circle cx="715.6" cy="98.0" r="0.9" fill="#333"/>
<polyline points="579.5,353.4 606.8,446.4 643.4,456.0" fill="none" stroke="#959595" stroke-width="0.9" />
<circle cx="579.5" cy="353.4" r="0.9" fill="#333"/>
<text transform="translate(15 704.5) rotate(-90) scale(0.836 1)" font-size="10.6" class="lb" style="fill:#3b6cc0">TM-MONO-2022</text>
</svg>
</body></html>
